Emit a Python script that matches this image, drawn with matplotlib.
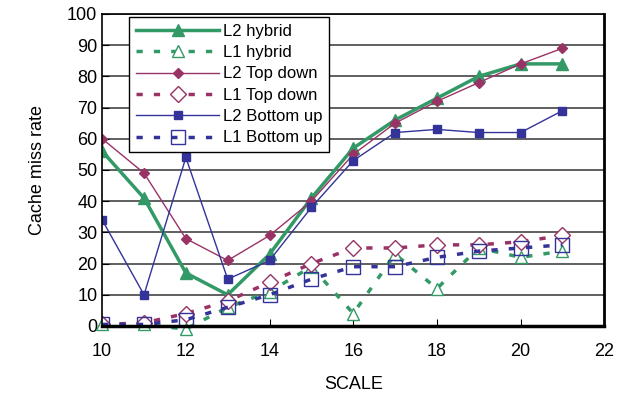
import numpy as np
import matplotlib.pyplot as plt

plt.rcParams['font.family'] = ['Liberation Sans', 'DejaVu Sans']

scale = [10, 11, 12, 13, 14, 15, 16, 17, 18, 19, 20, 21]
l2_hybrid = [56, 41, 17, 10, 23, 41, 57, 66, 73, 80, 84, 84]
l1_hybrid = [0.5, 0.5, -1, 6, 11, 19, 4, 23, 12, 25, 22, 24]
l2_top = [60, 49, 28, 21, 29, 40, 55, 65, 72, 78, 84, 89]
l1_top = [0.5, 1, 4, 8, 14, 20, 25, 25, 26, 26, 27, 29]
l2_bottom = [34, 10, 54, 15, 21, 38, 53, 62, 63, 62, 62, 69]
l1_bottom = [0.5, 0.5, 2, 6, 10, 15, 19, 19, 22, 24, 25, 26]

green = '#339966'
maroon = '#993366'
blue = '#333399'
dash = (0, (1.8, 3.2))

fig = plt.figure(figsize=(6.23, 3.99), dpi=100)
ax = fig.add_axes([0.164, 0.183, 0.806, 0.782])

ax.plot(scale, l2_hybrid, color=green, lw=2.5, marker='^', ms=9, label='L2 hybrid')
ax.plot(scale, l1_hybrid, color=green, lw=2.5, ls=dash, marker='^', ms=9,
        mfc='white', mec=green, mew=1, label='L1 hybrid', clip_on=False)
ax.plot(scale, l2_top, color=maroon, lw=1, marker='D', ms=5, label='L2 Top down')
ax.plot(scale, l1_top, color=maroon, lw=2.5, ls=dash, marker='D', ms=8,
        mfc='white', mec=maroon, mew=1, label='L1 Top down')
ax.plot(scale, l2_bottom, color=blue, lw=1, marker='s', ms=6, label='L2 Bottom up')
ax.plot(scale, l1_bottom, color=blue, lw=2.5, ls=dash, marker='s', ms=10,
        mfc='none', mec=blue, mew=1, label='L1 Bottom up')

ax.set_xlim(10, 22)
ax.set_ylim(0, 100)
ax.set_xticks(range(10, 23, 2))
ax.set_yticks(range(0, 101, 10))
ax.tick_params(direction='in', labelsize=13, length=5, colors='black')
ax.tick_params(axis='x', pad=12)
ax.grid(axis='y', color='#444444', lw=1.2)
ax.set_axisbelow(True)
for s in ax.spines.values():
    s.set_linewidth(1.2)
ax.spines['bottom'].set_linewidth(2.5)
ax.spines['right'].set_linewidth(2)

ax.set_xlabel('SCALE', fontsize=13, labelpad=12)
ax.set_ylabel('Cache miss rate', fontsize=13, labelpad=15)

leg = ax.legend(loc='upper left', bbox_to_anchor=(0.054, 0.99), fontsize=12,
                handlelength=5.0, borderpad=0.4, labelspacing=0.38,
                handletextpad=0.2, borderaxespad=0, fancybox=False,
                framealpha=1, edgecolor='black')
leg.get_frame().set_linewidth(1)

fig.savefig('out.png', dpi=100)
